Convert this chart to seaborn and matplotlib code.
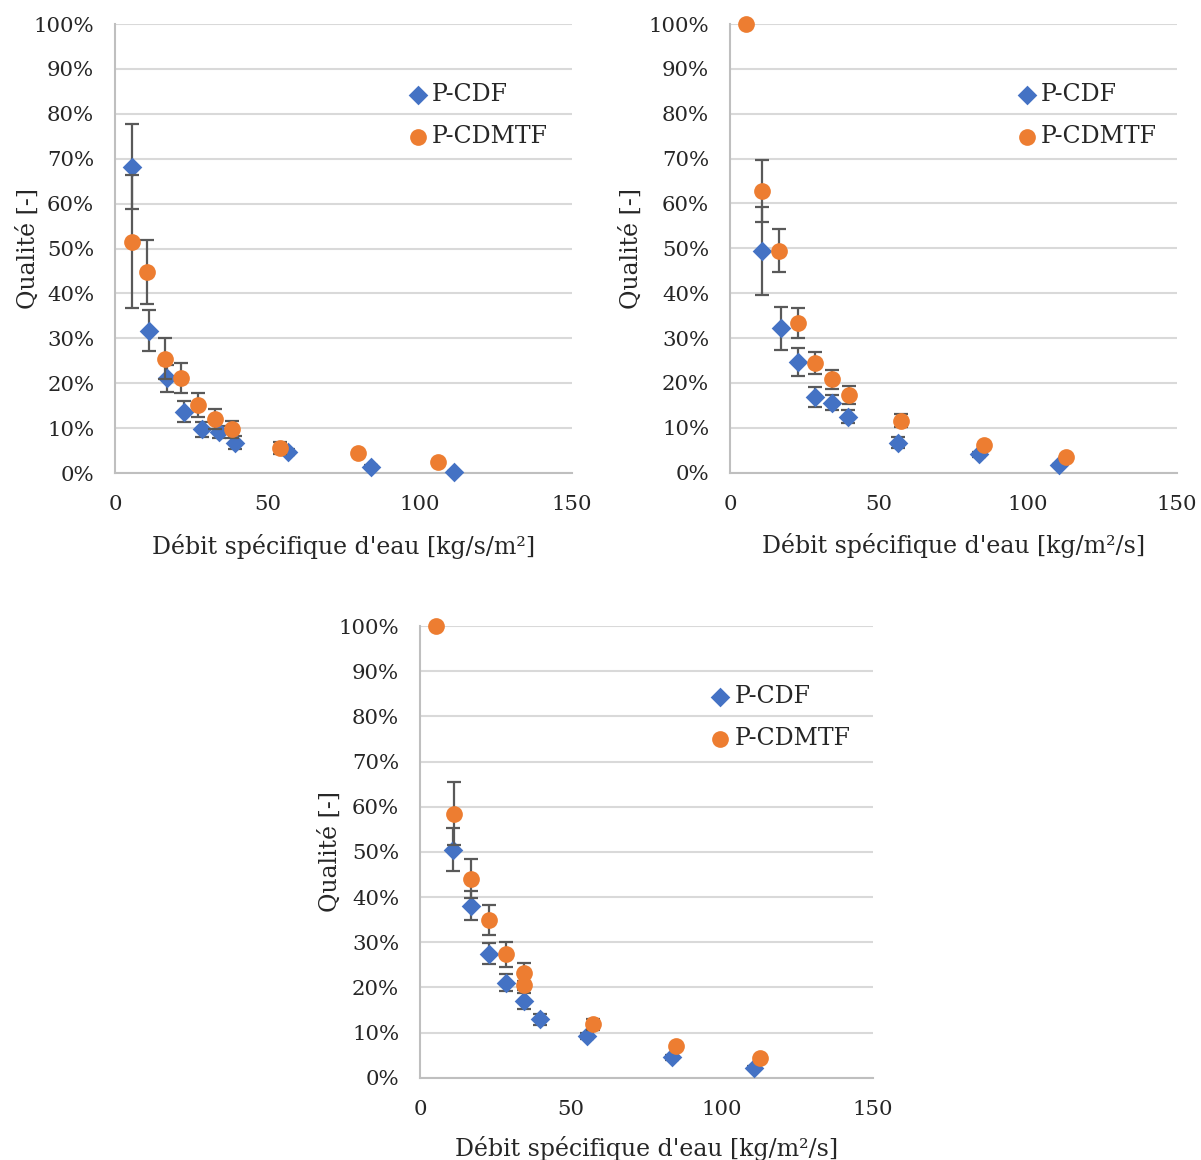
import numpy as np
import pandas as pd
import matplotlib
matplotlib.use("Agg")
import matplotlib.pyplot as plt
import seaborn as sns

# --- data (x: kg/s/m2 or kg/m2/s, y: quality %) ---
# top-left chart
cdf1_x = [5.5, 11.3, 17.2, 22.6, 28.4, 34.1, 39.4, 56.9, 83.9, 111.4]
cdf1_y = [68.2, 31.7, 21.1, 13.7, 9.7, 9.1, 6.8, 4.7, 1.4, 0.3]
cdf1_err = [9.5, 4.5, 3.0, 2.3, 1.7, 1.4, 1.4, 0.6, 0.3, 0.2]
mtf1_x = [5.5, 10.4, 16.4, 21.7, 27.1, 32.8, 38.3, 54.2, 79.9, 105.9]
mtf1_y = [51.5, 44.8, 25.5, 21.2, 15.1, 12.0, 9.7, 5.6, 4.5, 2.5]
mtf1_err = [14.8, 7.1, 4.5, 3.4, 2.7, 2.3, 1.9, 1.4, 0.4, 0.3]

# top-right chart
cdf2_x = [10.9, 17.1, 22.7, 28.4, 34.2, 39.6, 56.4, 83.7, 110.3]
cdf2_y = [49.5, 32.2, 24.7, 16.9, 15.6, 12.5, 6.7, 4.1, 1.7]
cdf2_err = [9.8, 4.8, 3.1, 2.2, 1.7, 1.5, 1.3, 0.6, 0.3]
mtf2_x = [5.3, 10.9, 16.3, 22.7, 28.6, 34.2, 39.9, 57.3, 85.1, 112.6]
mtf2_y = [100, 62.8, 49.5, 33.4, 24.5, 20.8, 17.3, 11.6, 6.2, 3.6]
mtf2_err = [0, 7.0, 4.8, 3.4, 2.5, 2.1, 2.0, 1.5, 0.4, 0.3]

# bottom chart
cdf3_x = [10.9, 16.9, 22.9, 28.5, 34.3, 39.8, 55.3, 83.4, 110.5]
cdf3_y = [50.5, 38.1, 27.5, 21.0, 17.0, 12.9, 9.2, 4.5, 2.2]
cdf3_err = [4.7, 3.2, 2.4, 1.9, 1.7, 1.2, 0.7, 0.5, 0.3]
mtf3_x = [5.4, 11.1, 16.9, 22.9, 28.5, 34.3, 34.3, 57.2, 84.9, 112.5]
mtf3_y = [100, 58.5, 44.1, 34.9, 27.3, 23.1, 20.5, 11.8, 7.1, 4.3]
mtf3_err = [0, 7.0, 4.4, 3.4, 2.8, 2.2, 1.0, 1.3, 0.4, 0.3]

xlabels = ["Débit spécifique d'eau [kg/s/m²]",
           "Débit spécifique d'eau [kg/m²/s]",
           "Débit spécifique d'eau [kg/m²/s]"]

sns.set_style("white")
plt.rcParams['font.family'] = ['DejaVu Serif']

blue = '#4472C4'
orange = '#ED7D31'
err_color = '#595959'
text_color = '#262626'

fig = plt.figure(figsize=(12.01, 11.60), dpi=100)
# axes boxes (left, bottom, width, height) in figure fractions
boxes = [(0.0958, 0.5922, 0.3805, 0.3871),
         (0.6078, 0.5925, 0.3722, 0.3868),
         (0.3497, 0.0709, 0.3772, 0.3894)]
ylab_x = [-0.164, -0.194, -0.172]
xlab_y = [-0.135, -0.135, -0.128]

charts = [(cdf1_x, cdf1_y, cdf1_err, mtf1_x, mtf1_y, mtf1_err),
          (cdf2_x, cdf2_y, cdf2_err, mtf2_x, mtf2_y, mtf2_err),
          (cdf3_x, cdf3_y, cdf3_err, mtf3_x, mtf3_y, mtf3_err)]

for i, (cx, cy, ce, mx, my, me) in enumerate(charts):
    ax = fig.add_axes(boxes[i])
    cdf = pd.DataFrame({'x': cx, 'y': cy, 'err': ce})
    mtf = pd.DataFrame({'x': mx, 'y': my, 'err': me})

    ax.errorbar(cdf['x'], cdf['y'], yerr=cdf['err'], fmt='none', ecolor=err_color,
                elinewidth=1.6, capsize=5, capthick=1.6, zorder=3, clip_on=False)
    sns.scatterplot(data=cdf, x='x', y='y', ax=ax, marker='D', s=100, color=blue,
                    edgecolor=blue, linewidth=0, label='P-CDF', zorder=4, clip_on=False)
    ax.errorbar(mtf['x'], mtf['y'], yerr=mtf['err'], fmt='none', ecolor=err_color,
                elinewidth=1.6, capsize=5, capthick=1.6, zorder=5, clip_on=False)
    sns.scatterplot(data=mtf, x='x', y='y', ax=ax, marker='o', s=145, color=orange,
                    edgecolor=orange, linewidth=0, label='P-CDMTF', zorder=6, clip_on=False)

    ax.set_xlim(0, 150)
    ax.set_ylim(0, 100)
    ax.set_xticks([0, 50, 100, 150])
    ax.set_yticks(np.arange(0, 101, 10))
    ax.set_yticklabels([f"{v}%" for v in range(0, 101, 10)])
    ax.tick_params(axis='both', which='major', length=0, labelsize=15.3, colors=text_color)
    ax.tick_params(axis='y', pad=15)
    ax.tick_params(axis='x', pad=16)
    if i > 0:
        ax.set_xticks([50, 100], minor=True)
        ax.tick_params(axis='x', which='minor', length=9, width=1.5,
                       direction='inout', color='#bfbfbf')

    ax.grid(axis='y', color='#d9d9d9', linewidth=1.5)
    ax.set_axisbelow(True)
    for side in ['top', 'right']:
        ax.spines[side].set_visible(False)
    for side in ['left', 'bottom']:
        ax.spines[side].set_color('#bfbfbf')
        ax.spines[side].set_linewidth(1.5)

    ax.set_xlabel(xlabels[i], fontsize=17, color=text_color)
    ax.set_ylabel('Qualité [-]', fontsize=17, color=text_color)
    ax.yaxis.set_label_coords(ylab_x[i], 0.5)
    ax.xaxis.set_label_coords(0.5, xlab_y[i])

    ax.legend(loc='upper left', bbox_to_anchor=(0.611, 0.89), frameon=False,
              fontsize=17, handletextpad=0.0, labelspacing=0.8,
              borderaxespad=0, handlelength=1.2)

fig.savefig('out.png', dpi=100)
